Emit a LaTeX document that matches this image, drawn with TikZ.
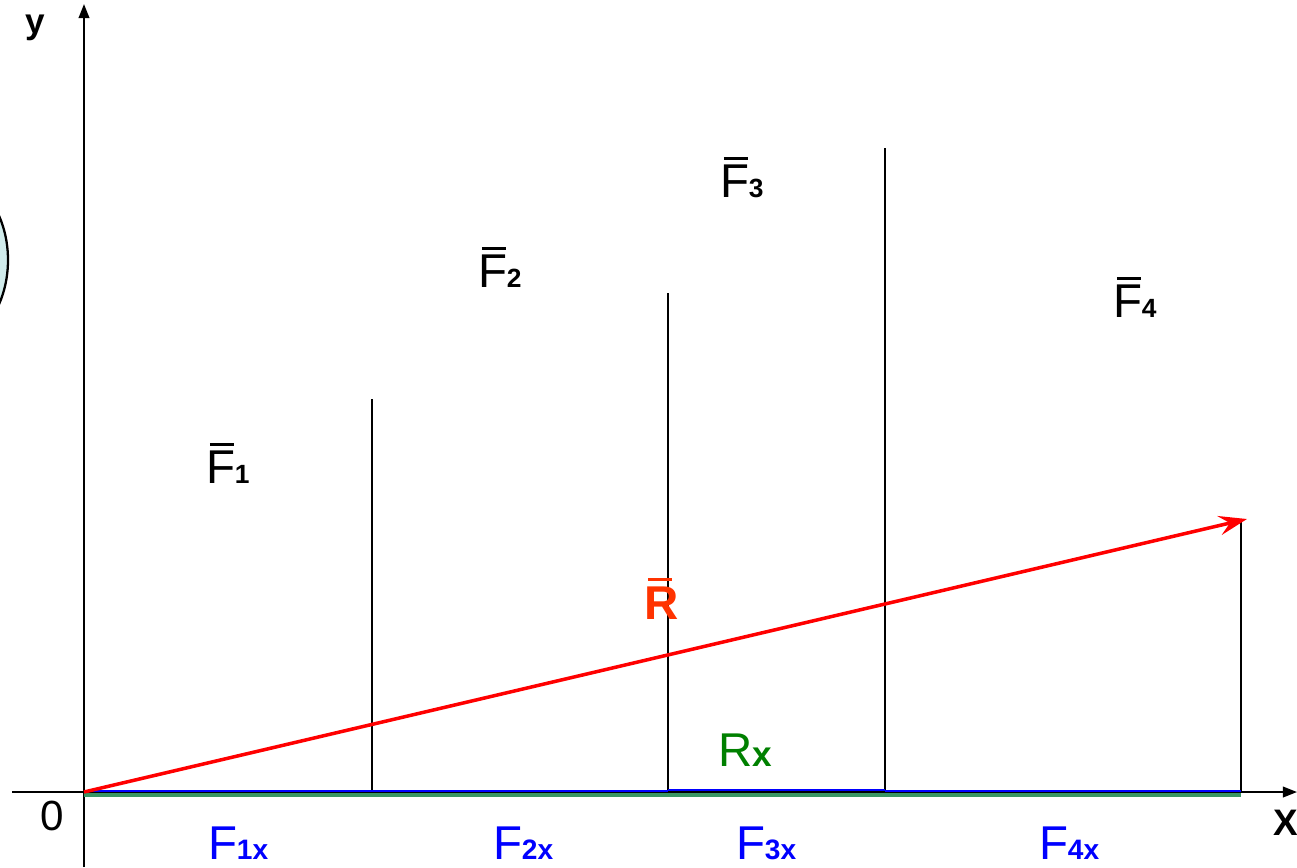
\documentclass[tikz,border=0pt]{standalone}
\usepackage{fontspec}
\setmainfont{Liberation Sans}
\usetikzlibrary{arrows.meta}
\definecolor{bluex}{RGB}{0,0,255}
\definecolor{greenline}{RGB}{56,150,100}
\definecolor{greentext}{RGB}{0,128,0}
\definecolor{redvec}{RGB}{255,0,0}
\definecolor{redtext}{RGB}{255,51,0}
\definecolor{cyanlight}{RGB}{208,235,235}
\newcommand\ovbarF{\rlap{\hspace{0.08em}\rule[0.77em]{0.52em}{0.065em}}F}
\newcommand\ovbarR{\rlap{\hspace{0.08em}\rule[0.8em]{0.5em}{0.07em}}R}
\newcommand\fbarlabel[1]{\fontsize{27}{30}\selectfont\ovbarF{\fontsize{15}{17}\selectfont\bfseries #1}}
\newcommand\fxlabel[1]{\fontsize{27}{30}\selectfont F{\fontsize{16}{18}\selectfont\bfseries #1}}
\tikzset{
  lbl/.style={inner sep=0pt, outer sep=0pt, anchor=base west},
  axisline/.style={line width=1.2pt, black, -{Triangle[length=8pt,width=6pt]}},
  projline/.style={line width=1pt, black},
  gline/.style={line width=2.3pt, greenline},
  bline/.style={line width=1.1pt, bluex},
  rvec/.style={line width=2pt, redvec, -{Stealth[length=16pt,width=11pt,inset=6pt]}},
}
\begin{document}
\begin{tikzpicture}[x=0.02cm,y=-0.02cm]
\useasboundingbox (0,0) rectangle (1297,867);
\begin{scope}
  \clip (0,0) rectangle (1297,867);
  \draw[line width=1.3pt, fill=cyanlight] (-60,260) ellipse [x radius=68, y radius=89];
\end{scope}
% coordinates
\coordinate (O) at (84,792);
\coordinate (ytop) at (84,4);
\coordinate (ybot) at (84,867);
\coordinate (xl) at (12,792);
\coordinate (xr) at (1297,792);
\coordinate (A1) at (372,792);
\coordinate (B1) at (372,399);
\coordinate (A2) at (668,792);
\coordinate (B2) at (668,293);
\coordinate (A3) at (885,792);
\coordinate (B3) at (885,148);
\coordinate (A4) at (1241,792);
\coordinate (B4) at (1241,520);
\coordinate (Rtip) at (1247,519);
% axes
\draw[axisline] (ybot) -- (ytop);
\draw[axisline] (xl) -- (xr);
% vertical projection lines
\draw[projline] (A1) -- (B1);
\draw[projline] (A2) -- (B2);
\draw[projline] (A3) -- (B3);
\draw[projline] (A4) -- (B4);
% green resultant projection and blue components
\draw[gline] ([yshift=-1.5pt]O) -- ([yshift=-1.5pt]A4);
\draw[bline] ([yshift=0.5pt]O) -- ([yshift=0.5pt]A1) -- ([yshift=0.5pt]A2);
\draw[bline] ([yshift=1pt]A2) -- ([yshift=1pt]A3);
\draw[bline] ([yshift=0.5pt]A3) -- ([yshift=0.5pt]A4);
% resultant
\draw[rvec] (O) -- (Rtip);
% labels
\node[lbl] (ylab) at (25,33) {\fontsize{20}{22}\selectfont\bfseries y};
\node[lbl] (xlab) at (1273,835) {\fontsize{21}{23}\selectfont\bfseries X};
\node[lbl] (zero) at (40,830) {\fontsize{24}{26}\selectfont 0};
\node[lbl] (F1) at (206,483) {\fbarlabel{1}};
\node[lbl] (F2) at (478,287) {\fbarlabel{2}};
\node[lbl] (F3) at (720,197) {\fbarlabel{3}};
\node[lbl] (F4) at (1113,317) {\fbarlabel{4}};
\node[lbl, text=redtext] (Rbar) at (644,619) {\fontsize{27}{30}\selectfont\bfseries\ovbarR};
\node[lbl, text=greentext] (Rx) at (718,766) {\fontsize{27}{30}\selectfont R{\fontsize{20}{22}\selectfont\bfseries x}};
\node[lbl, text=bluex] (F1x) at (208,859) {\fxlabel{1x}};
\node[lbl, text=bluex] (F2x) at (493,859) {\fxlabel{2x}};
\node[lbl, text=bluex] (F3x) at (736,859) {\fxlabel{3x}};
\node[lbl, text=bluex] (F4x) at (1039,859) {\fxlabel{4x}};
\end{tikzpicture}
\end{document}
